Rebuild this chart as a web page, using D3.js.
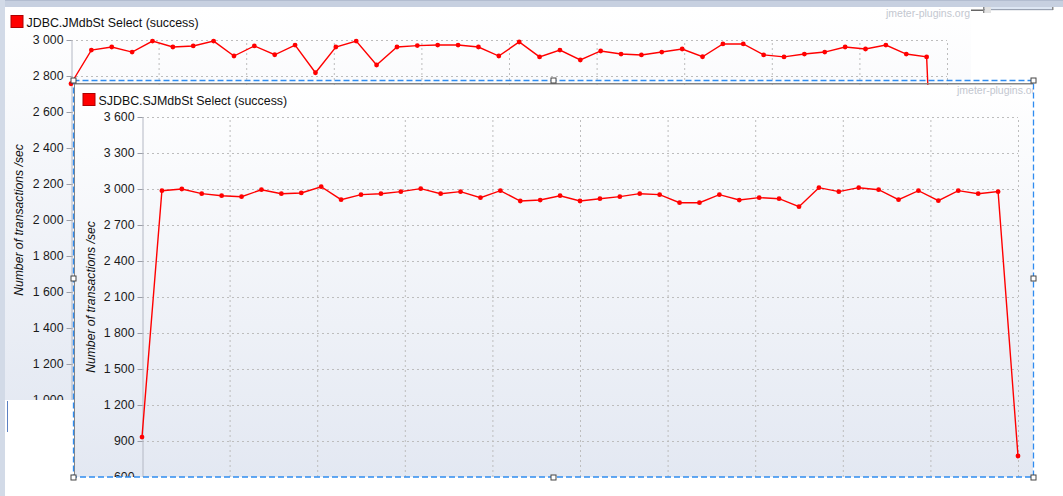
<!DOCTYPE html>
<html>
<head>
<meta charset="utf-8">
<script src="https://cdn.jsdelivr.net/npm/d3@7"></script>
<style>
  html, body { margin: 0; padding: 0; background: #fff; overflow: hidden; }
  svg { display: block; font-family: "Liberation Sans", Arial, sans-serif; }
  .grid line { stroke: #bdbdbd; stroke-dasharray: 2,3; }
  .grid path { display: none; }
  .axis path { stroke: #b4b8c4; }
  .axis line { stroke: #9a9ea8; }
  .axis text { font-size: 12.3px; fill: #1a1a1a; }
</style>
</head>
<body>
<div id="chart"></div>
<script>
// Transactions per second.
var jmdbValues = [2757, 2944, 2961, 2933, 2994, 2961, 2967, 2994, 2911, 2967, 2918,
  2972, 2818, 2961, 2994, 2861, 2961, 2969, 2972, 2972, 2961, 2911, 2989, 2906,
  2944, 2889, 2939, 2922, 2917, 2933, 2950, 2907, 2978, 2978, 2917, 2906, 2922,
  2933, 2961, 2950, 2972, 2922, 2906];
var jmdbTail = { slot: 42.8, value: 800 };   // last partial sample, mostly hidden

var sjmdbValues = [933, 2986, 3000, 2961, 2944, 2936, 2994, 2961, 2967, 3019, 2911,
  2953, 2961, 2978, 3003, 2961, 2978, 2928, 2986, 2900, 2908, 2944, 2900, 2919,
  2936, 2961, 2953, 2886, 2886, 2953, 2908, 2928, 2919, 2853, 3011, 2978, 3011,
  2994, 2911, 2986, 2903, 2986, 2961, 2978, 775];

var jmdbTicks = [1000, 1200, 1400, 1600, 1800, 2000, 2200, 2400, 2600, 2800, 3000];
var sjmdbTicks = [600, 900, 1200, 1500, 1800, 2100, 2400, 2700, 3000, 3300, 3600];
var jmdbGrid = [4.3, 8.6, 12.9, 17.2, 21.5, 25.8, 30.1, 34.4, 38.7, 43];
var sjmdbGrid = [4.4, 8.8, 13.2, 17.6, 22, 26.4, 30.8, 35.2, 39.6, 44];

var titles = ["JDBC.JMdbSt Select (success)", "SJDBC.SJMdbSt Select (success)"];
var yLabel = "Number of transactions /sec";
var watermark = "jmeter-plugins.org";

var W = 1063, H = 496;
var fmt = d3.formatLocale({ decimal: ".", thousands: " ", grouping: [3], currency: ["", ""] }).format(",d");

var svg = d3.select("#chart").append("svg")
  .attr("width", W)
  .attr("height", H);

var defs = svg.append("defs");
var grad = defs.append("linearGradient")
  .attr("id", "panelBg")
  .attr("x1", 0).attr("y1", 0).attr("x2", 0).attr("y2", 1);
grad.append("stop").attr("offset", "0%").attr("stop-color", "#ffffff");
grad.append("stop").attr("offset", "100%").attr("stop-color", "#e3e8f2");

// window chrome: top bar and left strip
svg.append("rect").attr("x", 0).attr("y", 0).attr("width", W).attr("height", 7).attr("fill", "#c7d0e0");
svg.append("rect").attr("x", 0).attr("y", 0).attr("width", W).attr("height", 1).attr("fill", "#b3bdd0");
svg.append("rect").attr("x", 0).attr("y", 0).attr("width", 5).attr("height", H).attr("fill", "#d2dae7");

// Draws one JMeter graph panel.
function drawPanel(p) {
  var clipId = "clip" + p.id;
  defs.append("clipPath").attr("id", clipId)
    .append("rect")
    .attr("x", p.left).attr("y", p.top)
    .attr("width", p.right - p.left).attr("height", p.bottom - p.top);

  var g = svg.append("g").attr("clip-path", "url(#" + clipId + ")");

  g.append("rect")
    .attr("x", p.left).attr("y", p.top)
    .attr("width", p.right - p.left).attr("height", p.bgBottom - p.top)
    .attr("fill", "url(#panelBg)");

  var xScale = d3.scaleLinear().domain(p.xDomain).range([p.x0, p.x1]);
  var yScale = d3.scaleLinear().domain(p.yDomain).range([p.y1, p.y0]);

  // title with legend swatch
  g.append("rect")
    .attr("x", p.titleX).attr("y", p.titleY - 11)
    .attr("width", 12).attr("height", 12)
    .attr("fill", "#ff0000").attr("stroke", "#b00000");
  g.append("text")
    .attr("x", p.titleX + 15.5).attr("y", p.titleY)
    .attr("font-size", "12.4px").attr("fill", "#111")
    .text(p.title);

  g.append("text")
    .attr("x", p.markX).attr("y", p.markY)
    .attr("font-size", "10.5px").attr("fill", "#c3c7d0")
    .text(watermark);

  // grid lines
  g.append("g")
    .attr("class", "grid")
    .attr("transform", "translate(" + p.x0 + ",0)")
    .call(d3.axisLeft(yScale).tickValues(p.ticks).tickSize(-(p.x1 - p.x0)).tickFormat(""));
  g.append("g")
    .attr("class", "grid")
    .attr("transform", "translate(0," + p.y1 + ")")
    .call(d3.axisBottom(xScale).tickValues(p.grid).tickSize(-(p.y1 - p.y0)).tickFormat(""));

  // y axis
  g.append("g")
    .attr("class", "axis")
    .attr("transform", "translate(" + (p.x0 + 0.5) + ",0)")
    .call(d3.axisLeft(yScale).tickValues(p.ticks).tickSize(5).tickSizeOuter(0).tickPadding(3).tickFormat(fmt));

  g.append("text")
    .attr("transform", "translate(" + p.labelX + "," + ((p.y0 + p.y1) / 2) + ") rotate(-90)")
    .attr("text-anchor", "middle")
    .attr("font-size", "12.2px").attr("font-style", "italic").attr("fill", "#111")
    .text(yLabel);

  // series
  var points = p.values.map(function(v, i) { return { slot: i, value: v }; });
  var linePoints = p.tail ? points.concat([p.tail]) : points;

  var line = d3.line()
    .x(function(d) { return xScale(d.slot); })
    .y(function(d) { return yScale(d.value); });

  g.append("path")
    .datum(linePoints)
    .attr("d", line)
    .attr("fill", "none")
    .attr("stroke", "#ff0000")
    .attr("stroke-width", 1.4);

  g.selectAll(".dot")
    .data(points)
    .enter().append("circle")
    .attr("class", "dot")
    .attr("cx", function(d) { return xScale(d.slot); })
    .attr("cy", function(d) { return yScale(d.value); })
    .attr("r", 2.4)
    .attr("fill", "#ff0000");
}

// background panel (mostly covered)
drawPanel({
  id: 1, left: 5, top: 8, right: 971, bottom: 400, bgBottom: 430,
  x0: 71, x1: 947, y0: 40, y1: 400,
  xDomain: [0, 43], yDomain: [1000, 3000],
  ticks: jmdbTicks, grid: jmdbGrid,
  values: jmdbValues, tail: jmdbTail,
  title: titles[0], titleX: 11, titleY: 26.5,
  markX: 886, markY: 17, labelX: 23
});

// white area under the first panel, bottom left
svg.append("rect").attr("x", 5).attr("y", 400.5).attr("width", 68).attr("height", H - 400).attr("fill", "#fff");
svg.append("line").attr("x1", 7.5).attr("x2", 7.5).attr("y1", 401).attr("y2", 432)
  .attr("stroke", "#5b80c2").attr("stroke-width", 1);

// little widgets at the top right
svg.append("rect").attr("x", 971).attr("y", 9.5).attr("width", 12).attr("height", 1.5).attr("fill", "#666");
svg.append("rect").attr("x", 983).attr("y", 7).attr("width", 70).attr("height", 2).attr("fill", "#dde6f3");
svg.append("rect").attr("x", 983).attr("y", 9).attr("width", 70).attr("height", 1.2).attr("fill", "#9aa3b3");
svg.append("rect").attr("x", 985).attr("y", 7).attr("width", 6).attr("height", 6).attr("fill", "#e2e2e2");
svg.append("rect").attr("x", 983).attr("y", 7).attr("width", 1.5).attr("height", 6).attr("fill", "#8a8a8a");
svg.append("rect").attr("x", 1052).attr("y", 7).attr("width", 1.5).attr("height", 3).attr("fill", "#8a8a8a");

// foreground panel
drawPanel({
  id: 2, left: 75, top: 85, right: 1033, bottom: 477, bgBottom: 477,
  x0: 142, x1: 1018, y0: 117, y1: 477,
  xDomain: [0, 44], yDomain: [600, 3600],
  ticks: sjmdbTicks, grid: sjmdbGrid,
  values: sjmdbValues, tail: null,
  title: titles[1], titleX: 83, titleY: 104.5,
  markX: 957, markY: 94, labelX: 95
});

// panel frame and selection outline
svg.append("line").attr("x1", 74).attr("x2", 1033).attr("y1", 83.75).attr("y2", 83.75)
  .attr("stroke", "#858585").attr("stroke-width", 1.5);
svg.append("line").attr("x1", 74.5).attr("x2", 74.5).attr("y1", 83).attr("y2", 477)
  .attr("stroke", "#858585").attr("stroke-width", 1);
svg.append("rect")
  .attr("x", 73.5).attr("y", 80.5).attr("width", 960).attr("height", 396.5)
  .attr("fill", "none").attr("stroke", "#2f8cf0").attr("stroke-width", 1.3)
  .attr("stroke-dasharray", "6,3");

var handles = [[73.5, 80.5], [553.5, 80.5], [1033.5, 80.5], [73.5, 278.5], [1033.5, 278.5],
  [73.5, 477.5], [553.5, 477.5], [1033.5, 477.5]];
svg.selectAll(".handle")
  .data(handles)
  .enter().append("rect")
  .attr("class", "handle")
  .attr("x", function(d) { return d[0] - 2.5; })
  .attr("y", function(d) { return d[1] - 2.5; })
  .attr("width", 5).attr("height", 5)
  .attr("fill", "#fff").attr("stroke", "#444").attr("stroke-width", 1);
</script>
</body>
</html>
